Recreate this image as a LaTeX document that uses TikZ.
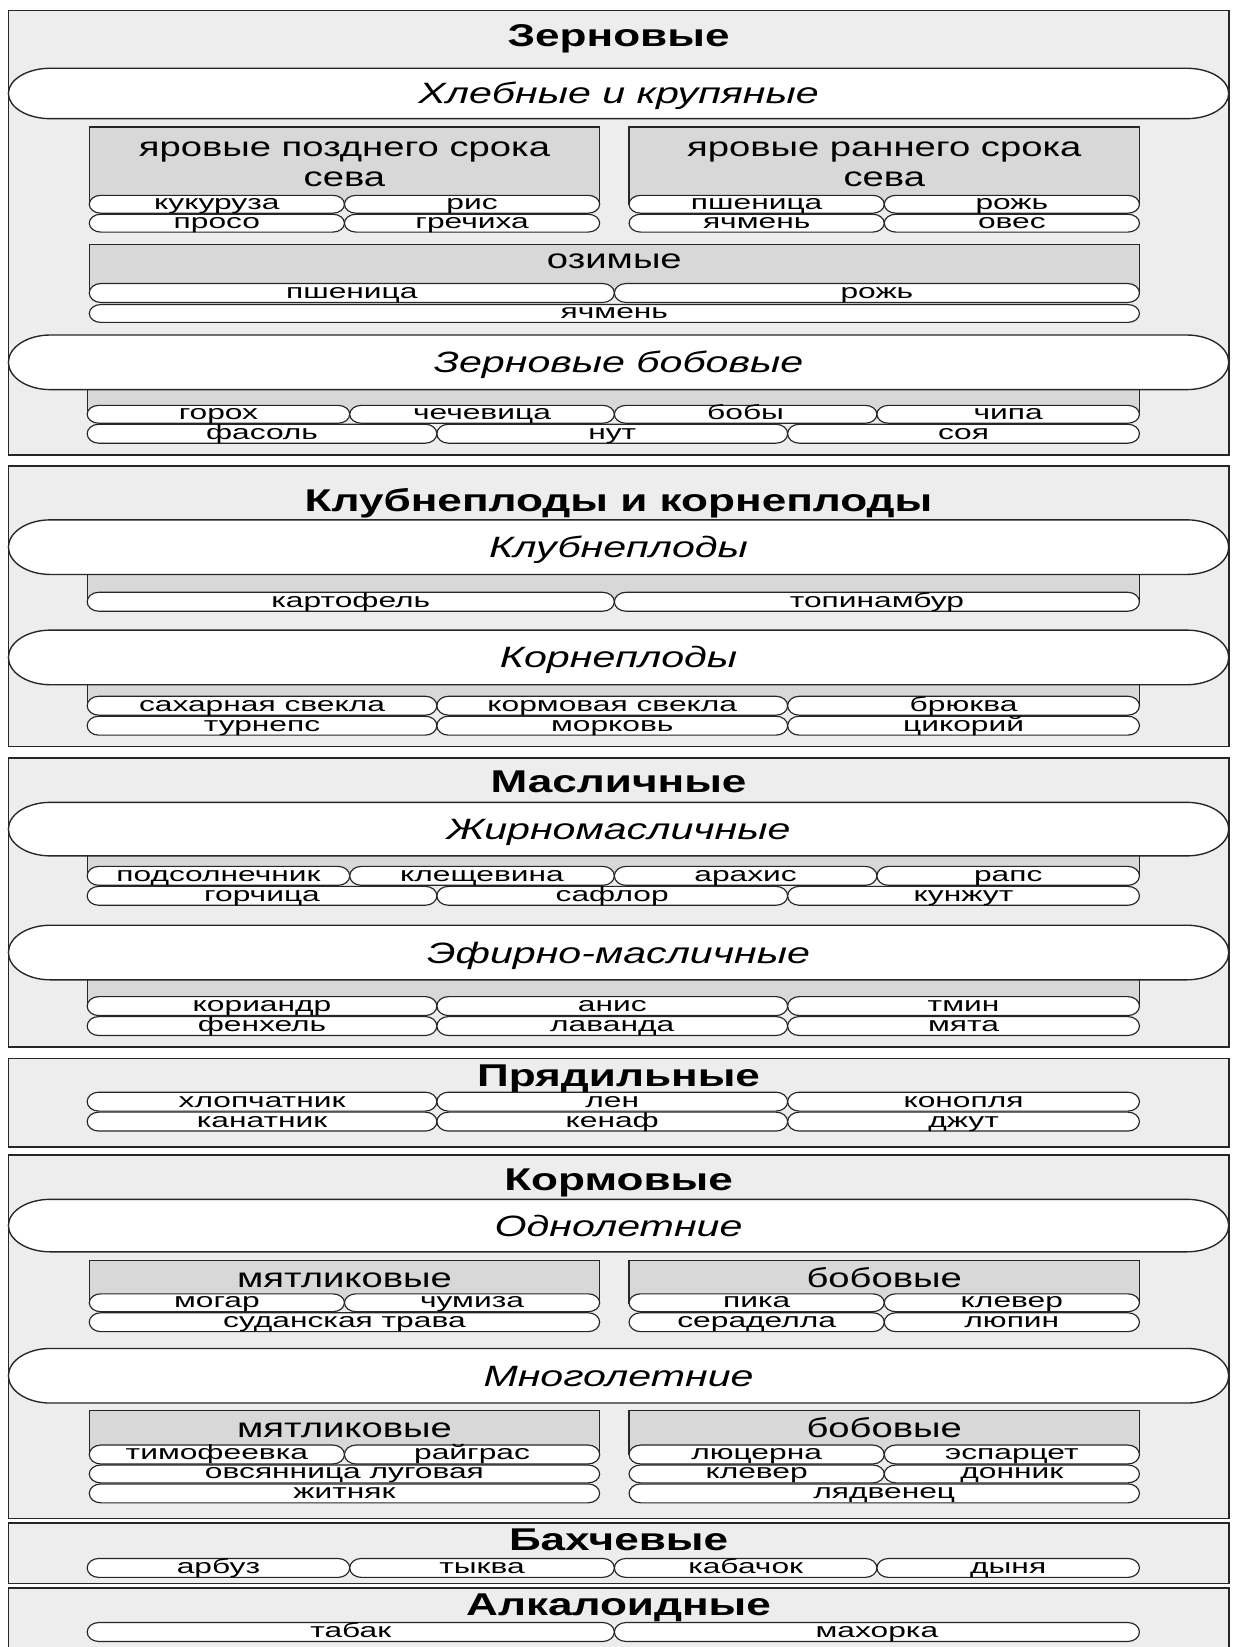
\documentclass[tikz,border=0pt]{standalone}
\usepackage{fontspec}
\setmainfont{Liberation Sans}[FakeStretch=1.4]
\newfontfamily\itemfont{Liberation Sans}[FakeStretch=1.55]
\definecolor{secfill}{HTML}{EDEDED}
\definecolor{hdrfill}{HTML}{D8D8D8}
\definecolor{lne}{HTML}{262626}
\tikzset{
  sect/.style={fill=secfill, draw=lne, line width=1.5pt},
  subbox/.style={fill=hdrfill, draw=lne, line width=1.2pt},
  pillst/.style={fill=white, draw=lne, line width=1.1pt},
  catst/.style={fill=white, draw=lne, line width=1.3pt},
  ttl/.style={font=\fontsize{30}{30}\selectfont\bfseries, anchor=base, inner sep=0pt},
  cattxt/.style={font=\fontsize{28}{28}\selectfont\itshape, anchor=base, inner sep=0pt},
  hdr/.style={font=\fontsize{26}{26}\selectfont, anchor=base, inner sep=0pt},
  itm/.style={font=\itemfont\fontsize{19.5}{19.5}\selectfont, anchor=base, inner sep=0pt},
}
% pill item: name, x1, x2, ytop, ybot, text
\newcommand\DrawPill[6]{%
  \pgfmathsetmacro\pry{(#5-#4)/2}%
  \draw[pillst] ({#2+11},-#4) -- ({#3-11},-#4)
     arc[start angle=90,end angle=-90,x radius=11,y radius=\pry]
     -- ({#2+11},-#5)
     arc[start angle=270,end angle=90,x radius=11,y radius=\pry] -- cycle;
  \node[itm] (#1) at ({(#2+#3)/2},{-#5+3.8}) {#6};
}
% category pill: name, ytop, ybot, text
\newcommand\DrawCat[4]{%
  \pgfmathsetmacro\cry{(#3-#2)/2}%
  \draw[catst] (48,-#2) -- (1130,-#2)
     arc[start angle=90,end angle=-90,x radius=40,y radius=\cry]
     -- (48,-#3)
     arc[start angle=270,end angle=90,x radius=40,y radius=\cry] -- cycle;
  \node[cattxt] (#1) at (589,{-(#2+#3)/2-10}) {#4};
}
% section: name, ytop, ybot, title, baseline
\newcommand\DrawSect[5]{%
  \draw[sect] (8,-#2) rectangle (1170,-#3);
  \node[ttl] (#1) at (589,-#5) {#4};
}
\begin{document}
\begin{tikzpicture}[x=1pt,y=1pt]
\useasboundingbox (0,0) rectangle (1176,-1568.3);
\fill[white] (0,0) rectangle (1176,-1568.3);

% ===== Зерновые =====
\DrawSect{s1}{10}{433}{Зерновые}{44}
\DrawCat{c1}{65}{113}{Хлебные и крупяные}
\draw[subbox] (85,-121) rectangle (571,-195);
\draw[subbox] (599,-121) rectangle (1085,-195);
\node[hdr] (h1) at (328,-149) {яровые позднего срока};
\node[hdr] (h1b) at (328,-178) {сева};
\node[hdr] (h2) at (842,-149) {яровые раннего срока};
\node[hdr] (h2b) at (842,-178) {сева};
\DrawPill{a1}{85}{328}{186}{203}{кукуруза}
\DrawPill{a2}{328}{571}{186}{203}{рис}
\DrawPill{a3}{85}{328}{204}{221}{просо}
\DrawPill{a4}{328}{571}{204}{221}{гречиха}
\DrawPill{a5}{599}{842}{186}{203}{пшеница}
\DrawPill{a6}{842}{1085}{186}{203}{рожь}
\DrawPill{a7}{599}{842}{204}{221}{ячмень}
\DrawPill{a8}{842}{1085}{204}{221}{овес}
\draw[subbox] (85,-233) rectangle (1085,-280);
\node[hdr] (h3) at (585,-256) {озимые};
\DrawPill{a9}{85}{585}{270}{288}{пшеница}
\DrawPill{a10}{585}{1085}{270}{288}{рожь}
\DrawPill{a11}{85}{1085}{290}{307}{ячмень}
\draw[subbox] (83,-345) rectangle (1085,-395);
\DrawCat{c2}{319}{371}{Зерновые бобовые}
\DrawPill{b1}{83}{333}{386}{403}{горох}
\DrawPill{b2}{333}{585}{386}{403}{чечевица}
\DrawPill{b3}{585}{835}{386}{403}{бобы}
\DrawPill{b4}{835}{1085}{386}{403}{чипа}
\DrawPill{b5}{83}{416}{404}{422}{фасоль}
\DrawPill{b6}{416}{750}{404}{422}{нут}
\DrawPill{b7}{750}{1085}{404}{422}{соя}

% ===== Клубнеплоды и корнеплоды =====
\DrawSect{s2}{444}{711}{Клубнеплоды и корнеплоды}{487}
\draw[subbox] (83,-521) rectangle (1085,-573);
\DrawCat{c3}{495}{547}{Клубнеплоды}
\DrawPill{d1}{83}{585}{564}{582}{картофель}
\DrawPill{d2}{585}{1085}{564}{582}{топинамбур}
\draw[subbox] (83,-626) rectangle (1085,-672);
\DrawCat{c4}{600}{652}{Корнеплоды}
\DrawPill{d3}{83}{416}{663}{681}{сахарная свекла}
\DrawPill{d4}{416}{750}{663}{681}{кормовая свекла}
\DrawPill{d5}{750}{1085}{663}{681}{брюква}
\DrawPill{d6}{83}{416}{682}{700}{турнепс}
\DrawPill{d7}{416}{750}{682}{700}{морковь}
\DrawPill{d8}{750}{1085}{682}{700}{цикорий}

% ===== Масличные =====
\DrawSect{s3}{722}{997}{Масличные}{755}
\draw[subbox] (83,-790) rectangle (1085,-834);
\DrawCat{c5}{764}{815}{Жирномасличные}
\DrawPill{e1}{83}{333}{825}{843}{подсолнечник}
\DrawPill{e2}{333}{585}{825}{843}{клещевина}
\DrawPill{e3}{585}{835}{825}{843}{арахис}
\DrawPill{e4}{835}{1085}{825}{843}{рапс}
\DrawPill{e5}{83}{416}{844}{862}{горчица}
\DrawPill{e6}{416}{750}{844}{862}{сафлор}
\DrawPill{e7}{750}{1085}{844}{862}{кунжут}
\draw[subbox] (83,-907) rectangle (1085,-958);
\DrawCat{c6}{881}{933}{Эфирно-масличные}
\DrawPill{e8}{83}{416}{949}{967}{кориандр}
\DrawPill{e9}{416}{750}{949}{967}{анис}
\DrawPill{e10}{750}{1085}{949}{967}{тмин}
\DrawPill{e11}{83}{416}{968}{986}{фенхель}
\DrawPill{e12}{416}{750}{968}{986}{лаванда}
\DrawPill{e13}{750}{1085}{968}{986}{мята}

% ===== Прядильные =====
\DrawSect{s4}{1008}{1092}{Прядильные}{1035}
\DrawPill{f1}{83}{416}{1040}{1058}{хлопчатник}
\DrawPill{f2}{416}{750}{1040}{1058}{лен}
\DrawPill{f3}{750}{1085}{1040}{1058}{конопля}
\DrawPill{f4}{83}{416}{1059}{1077}{канатник}
\DrawPill{f5}{416}{750}{1059}{1077}{кенаф}
\DrawPill{f6}{750}{1085}{1059}{1077}{джут}

% ===== Кормовые =====
\DrawSect{s5}{1100}{1446}{Кормовые}{1134}
\DrawCat{c7}{1142}{1192}{Однолетние}
\draw[subbox] (85,-1200) rectangle (571,-1241);
\draw[subbox] (599,-1200) rectangle (1085,-1241);
\node[hdr] (h4) at (328,-1226) {мятликовые};
\node[hdr] (h5) at (842,-1226) {бобовые};
\DrawPill{g1}{85}{328}{1232}{1249}{могар}
\DrawPill{g2}{328}{571}{1232}{1249}{чумиза}
\DrawPill{g3}{85}{571}{1250}{1268}{суданская трава}
\DrawPill{g4}{599}{842}{1232}{1249}{пика}
\DrawPill{g5}{842}{1085}{1232}{1249}{клевер}
\DrawPill{g6}{599}{842}{1250}{1268}{сераделла}
\DrawPill{g7}{842}{1085}{1250}{1268}{люпин}
\DrawCat{c8}{1284}{1336}{Многолетние}
\draw[subbox] (85,-1343) rectangle (571,-1385);
\draw[subbox] (599,-1343) rectangle (1085,-1385);
\node[hdr] (h6) at (328,-1369) {мятликовые};
\node[hdr] (h7) at (842,-1369) {бобовые};
\DrawPill{g8}{85}{328}{1376}{1394}{тимофеевка}
\DrawPill{g9}{328}{571}{1376}{1394}{райграс}
\DrawPill{g10}{85}{571}{1395}{1412}{овсянница луговая}
\DrawPill{g11}{85}{571}{1413}{1431}{житняк}
\DrawPill{g12}{599}{842}{1376}{1394}{люцерна}
\DrawPill{g13}{842}{1085}{1376}{1394}{эспарцет}
\DrawPill{g14}{599}{842}{1395}{1412}{клевер}
\DrawPill{g15}{842}{1085}{1395}{1412}{донник}
\DrawPill{g16}{599}{1085}{1413}{1431}{лядвенец}

% ===== Бахчевые =====
\DrawSect{s6}{1450}{1508}{Бахчевые}{1476}
\DrawPill{k1}{83}{333}{1484}{1502}{арбуз}
\DrawPill{k2}{333}{585}{1484}{1502}{тыква}
\DrawPill{k3}{585}{835}{1484}{1502}{кабачок}
\DrawPill{k4}{835}{1085}{1484}{1502}{дыня}

% ===== Алкалоидные =====
\DrawSect{s7}{1512}{1585}{Алкалоидные}{1538}
\DrawPill{m1}{83}{585}{1545}{1563}{табак}
\DrawPill{m2}{585}{1085}{1545}{1563}{махорка}
\end{tikzpicture}
\end{document}
